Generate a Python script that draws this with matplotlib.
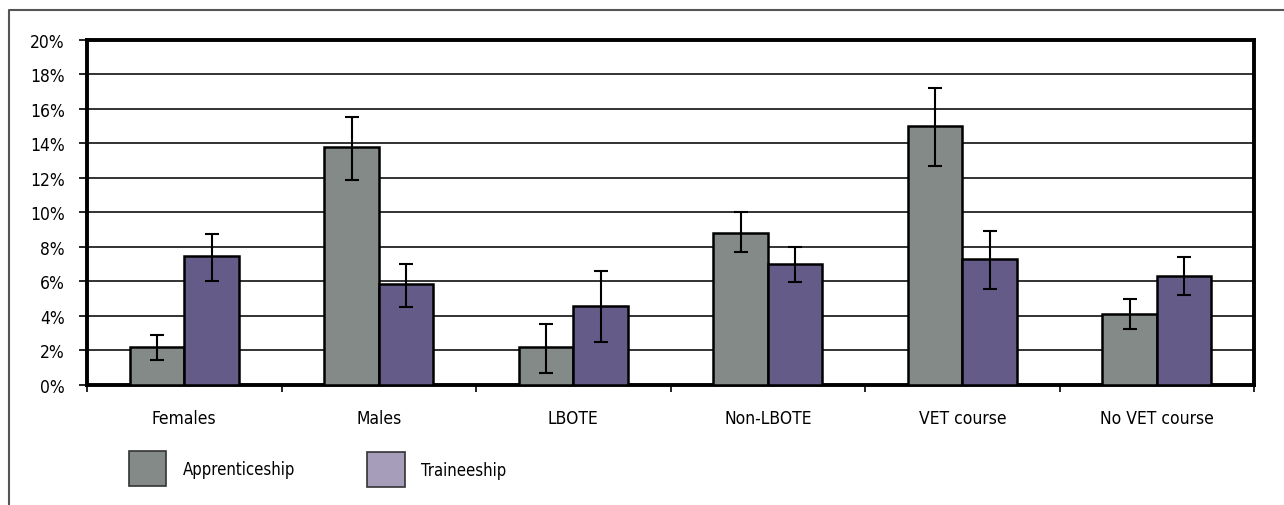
import matplotlib
matplotlib.use("Agg")
import matplotlib.pyplot as plt
from matplotlib.lines import Line2D
from matplotlib.patches import Rectangle
import numpy as np

categories = ["Females", "Males", "LBOTE", "Non-LBOTE", "VET course", "No VET course"]
apprentice = [2.2, 13.8, 2.2, 8.8, 15.0, 4.1]
apprentice_lo = [1.45, 11.9, 0.7, 7.7, 12.7, 3.25]
apprentice_hi = [2.9, 15.55, 3.55, 10.05, 17.2, 5.0]
trainee = [7.45, 5.85, 4.6, 7.0, 7.3, 6.3]
trainee_lo = [6.05, 4.5, 2.5, 5.95, 5.55, 5.2]
trainee_hi = [8.75, 7.0, 6.6, 8.0, 8.95, 7.4]
yticks = [0, 2, 4, 6, 8, 10, 12, 14, 16, 18, 20]

plt.rcParams["font.family"] = ["DejaVu Sans"]
plt.rcParams["font.stretch"] = "condensed"

fig = plt.figure(figsize=(12.84, 5.06), dpi=100)
ax = fig.add_axes([0.0678, 0.2372, 0.9089, 0.6818])

x = np.arange(len(categories))
w = 0.28
app_err = [np.subtract(apprentice, apprentice_lo), np.subtract(apprentice_hi, apprentice)]
tra_err = [np.subtract(trainee, trainee_lo), np.subtract(trainee_hi, trainee)]

ax.bar(x - w / 2, apprentice, w, color="#838a87", edgecolor="black", linewidth=1.8, zorder=3)
ax.bar(x + w / 2, trainee, w, color="#655b88", edgecolor="black", linewidth=1.8, zorder=3)
ax.errorbar(x - w / 2, apprentice, yerr=app_err, fmt="none", ecolor="black",
            elinewidth=1.5, capsize=5, capthick=1.5, zorder=4)
ax.errorbar(x + w / 2, trainee, yerr=tra_err, fmt="none", ecolor="black",
            elinewidth=1.5, capsize=5, capthick=1.5, zorder=4)

ax.set_xlim(-0.5, len(categories) - 0.5)
ax.set_ylim(0, 20)
ax.set_yticks(yticks)
ax.set_yticklabels([f"{t}%" for t in yticks], fontsize=12.5)
ax.yaxis.grid(True, color="#222222", linewidth=1.3, zorder=0)
ax.set_axisbelow(True)

ax.set_xticks(np.arange(-0.5, len(categories)))
ax.set_xticklabels([])
ax.set_xticks(x, minor=True)
ax.set_xticklabels(categories, minor=True, fontsize=12.5)
ax.tick_params(axis="x", which="minor", length=0, pad=17)
ax.tick_params(axis="x", which="major", length=5, width=1.2, direction="out")
ax.tick_params(axis="y", length=6, width=1.2, direction="out", pad=10)

for s in ax.spines.values():
    s.set_linewidth(2.8)
    s.set_color("black")

# legend drawn by hand (swatch colours differ from bars)
fig.patches.append(Rectangle((129 / 1284, 1 - 487 / 506), 37 / 1284, 35 / 506,
                             transform=fig.transFigure, facecolor="#838a87",
                             edgecolor="#333333", linewidth=1.2))
fig.text(183 / 1284, 1 - 470 / 506, "Apprenticeship", fontsize=12, va="center")
fig.patches.append(Rectangle((367 / 1284, 1 - 488 / 506), 38 / 1284, 35 / 506,
                             transform=fig.transFigure, facecolor="#a59dba",
                             edgecolor="#333333", linewidth=1.2))
fig.text(421 / 1284, 1 - 471 / 506, "Traineeship", fontsize=12, va="center")

# outer frame (top and left visible)
fig.lines.append(Line2D([9 / 1284, 9 / 1284, 1.0], [0.0, 1 - 10.5 / 506, 1 - 10.5 / 506],
                        transform=fig.transFigure, color="#555555", linewidth=1.5))

fig.savefig("out.png", dpi=100)
